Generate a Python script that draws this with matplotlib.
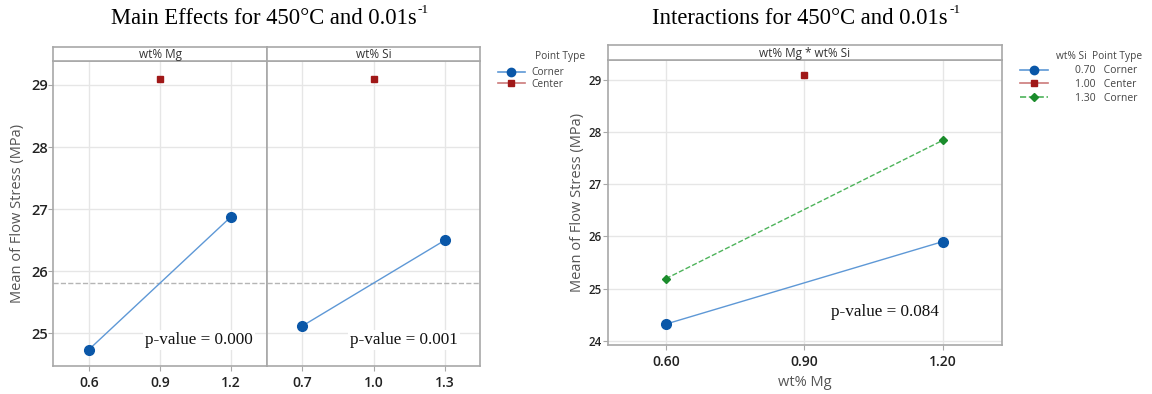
import matplotlib.pyplot as plt
from matplotlib.lines import Line2D

# main effects data (corner points + center point)
mg_levels = [0.6, 1.2]
mg_means = [24.74, 26.88]
si_levels = [0.7, 1.3]
si_means = [25.12, 26.50]
center_mg = 0.9
center_si = 1.0
center_mean = 29.10
grand_mean = 25.81
mg_ticks = [0.6, 0.9, 1.2]
si_ticks = [0.7, 1.0, 1.3]
p_main = ["p-value = 0.000", "p-value = 0.001"]

# interaction data
int_mg = [0.60, 1.20]
si070_means = [24.32, 25.90]
si130_means = [25.19, 27.84]
int_ticks = [0.60, 0.90, 1.20]
p_int = "p-value = 0.084"

BLUE = "#0a57a8"
BLUE_LN = "#5e98d6"
RED = "#a01818"
RED_LN = "#cc7a7a"
GREEN = "#1b8c2c"
GREEN_LN = "#4db35a"
FRAME = "#a8a8a8"
GRID = "#e6e6e6"
SANS = ["Open Sans", "DejaVu Sans"]
SERIF = ["Liberation Serif", "DejaVu Serif"]

plt.rcParams["font.family"] = SANS

fig = plt.figure(figsize=(11.52, 3.94), dpi=100)


def style_axes(ax, ticks, xlim, ylim, yticks, fs_x, fs_y):
    ax.set_xlim(*xlim)
    ax.set_ylim(*ylim)
    ax.set_xticks(ticks)
    ax.set_yticks(yticks)
    ax.grid(True, color=GRID, linewidth=1.0)
    ax.set_axisbelow(True)
    for s in ax.spines.values():
        s.set_color(FRAME)
        s.set_linewidth(1.2)
    ax.tick_params(axis="both", color=FRAME, length=3.5, labelcolor="#222222")
    ax.tick_params(axis="x", labelsize=fs_x, pad=4)
    ax.tick_params(axis="y", labelsize=fs_y, pad=0.5)
    plt.setp(ax.get_xticklabels() + ax.get_yticklabels(), fontweight="semibold")


def strip(rect, text, fs):
    s = fig.add_axes(rect)
    s.set_xticks([])
    s.set_yticks([])
    for sp in s.spines.values():
        sp.set_color(FRAME)
        sp.set_linewidth(1.2)
    s.text(0.5, 0.45, text, ha="center", va="center", fontsize=fs, color="#333333")
    return s


def title(x, text):
    # title with a small raised "-1"
    t = fig.text(x, 0.953, text, ha="center", va="center", fontsize=16.3, family=SERIF)
    fig.canvas.draw()
    bb = t.get_window_extent()
    fig.text(bb.x1 / fig.bbox.width + 0.001, 0.975, "-1", ha="left", va="center",
             fontsize=9.5, family=SERIF)


# ---- main effects ----
bot, h = 0.0718, 0.7741
ax1 = fig.add_axes([0.0463, bot, 0.1852, h])
ax2 = fig.add_axes([0.2315, bot, 0.1856, h], sharey=ax1)
yl = (24.48, 29.39)
style_axes(ax1, mg_ticks, (0.45, 1.35), yl, [25, 26, 27, 28, 29], 10, 10.5)
style_axes(ax2, si_ticks, (0.55, 1.45), yl, [25, 26, 27, 28, 29], 10, 10.5)
ax2.tick_params(axis="y", left=False, labelleft=False)

for ax, lv, mn, cx, pt, px in [(ax1, mg_levels, mg_means, center_mg, p_main[0], 0.936),
                               (ax2, si_levels, si_means, center_si, p_main[1], 0.895)]:
    ax.axhline(grand_mean, color="#b5b5b5", linestyle="--", linewidth=1.0, zorder=1)
    ax.plot(lv, mn, "-", color=BLUE_LN, linewidth=1.0, zorder=2)
    ax.plot(lv, mn, "o", color=BLUE, markersize=7, zorder=3)
    ax.plot([cx], [center_mean], "s", color=RED, markersize=5, zorder=3)
    ax.text(px, 0.084, pt, transform=ax.transAxes, ha="right", va="center",
            fontsize=12.3, family=SERIF, color="#111111",
            bbox=dict(facecolor="white", edgecolor="none", pad=1.5), zorder=4)

ax1.set_ylabel("Mean of Flow Stress (MPa)", fontsize=10.5, color="#555555", labelpad=4)
strip([0.0463, 0.8459, 0.1852, 0.0355], "wt% Mg", 8.5)
strip([0.2315, 0.8459, 0.1856, 0.0355], "wt% Si", 8.5)

title(0.229, "Main Effects for 450°C and 0.01s")

leg1 = [
    Line2D([], [], color=BLUE_LN, marker="o", markerfacecolor=BLUE,
           markeredgecolor=BLUE, markersize=6, linewidth=1.2, label="Corner"),
    Line2D([], [], color=RED_LN, marker="s", markerfacecolor=RED,
           markeredgecolor=RED, markersize=4.5, linewidth=1.2, label="Center"),
]
lg = fig.legend(handles=leg1, loc="upper left", bbox_to_anchor=(0.432, 0.829),
                frameon=False, fontsize=7.3, handlelength=2.7, labelspacing=0.05,
                borderpad=0, borderaxespad=0, handletextpad=0.6)
for t in lg.get_texts():
    t.set_color("#444444")
fig.text(535 / 1152, 1 - 57 / 394, "Point Type", ha="left", va="center",
         fontsize=7.3, color="#444444")

# ---- interaction ----
ax3 = fig.add_axes([0.5275, 0.1244, 0.342, 0.7233])
style_axes(ax3, int_ticks, (0.474, 1.328), (23.92, 29.38), [24, 25, 26, 27, 28, 29], 10, 8.3)
ax3.set_xticklabels([f"{t:.2f}" for t in int_ticks], fontweight="semibold")
ax3.plot(int_mg, si070_means, "-", color=BLUE_LN, linewidth=1.0, zorder=2)
ax3.plot(int_mg, si070_means, "o", color=BLUE, markersize=7, zorder=3)
ax3.plot(int_mg, si130_means, "--", color=GREEN_LN, linewidth=1.0, zorder=2)
ax3.plot(int_mg, si130_means, "D", color=GREEN, markersize=4.5, zorder=3)
ax3.plot([center_mg], [center_mean], "s", color=RED, markersize=5, zorder=3)
ax3.text(0.841, 0.116, p_int, transform=ax3.transAxes, ha="right", va="center",
         fontsize=12.3, family=SERIF, color="#111111")
ax3.set_ylabel("Mean of Flow Stress (MPa)", fontsize=10.5, color="#555555", labelpad=3)
ax3.set_xlabel("wt% Mg", fontsize=10.5, color="#555555", labelpad=4)
strip([0.5275, 0.8477, 0.342, 0.038], "wt% Mg * wt% Si", 8.5)

title(0.6945, "Interactions for 450°C and 0.01s")

leg2 = [
    Line2D([], [], color=BLUE_LN, marker="o", markerfacecolor=BLUE,
           markeredgecolor=BLUE, markersize=6, linewidth=1.2, label="0.70   Corner"),
    Line2D([], [], color=RED_LN, marker="s", markerfacecolor=RED,
           markeredgecolor=RED, markersize=4.5, linewidth=1.2, label="1.00   Center"),
    Line2D([], [], color=GREEN_LN, linestyle="--", marker="D", markerfacecolor=GREEN,
           markeredgecolor=GREEN, markersize=4, linewidth=1.2, label="1.30   Corner"),
]
lg2 = fig.legend(handles=leg2, loc="upper left", bbox_to_anchor=(0.885, 0.834),
                 frameon=False, fontsize=7.5, handlelength=2.7, labelspacing=0.25,
                 borderpad=0, borderaxespad=0, handletextpad=2.6)
for t in lg2.get_texts():
    t.set_color("#444444")
fig.text(1142 / 1152, 1 - 57 / 394, "wt% Si  Point Type", ha="right", va="center",
         fontsize=7.3, color="#444444")

fig.savefig("out.png", dpi=100, facecolor="white")
